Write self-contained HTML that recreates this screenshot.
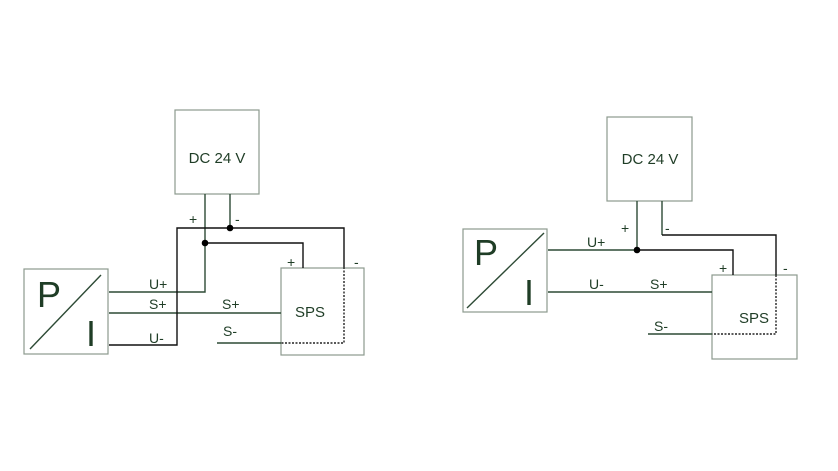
<!DOCTYPE html>
<html><head><style>html,body{margin:0;padding:0;background:#fff}svg{display:block}text{font-family:"Liberation Sans","DejaVu Sans",sans-serif;fill:#1f3d26}</style></head>
<body>
<svg width="838" height="471" viewBox="0 0 838 471" xmlns="http://www.w3.org/2000/svg">
<g fill="none" stroke="#8c9a8e" stroke-width="1.2">
<rect x="175" y="110" width="84" height="84"/>
<rect x="24" y="269" width="84" height="85"/>
<rect x="281" y="268" width="83" height="87"/>
<rect x="607" y="117" width="85" height="84"/>
<rect x="463" y="229" width="84" height="83"/>
<rect x="712" y="275" width="85" height="84"/>
</g>
<g fill="none" stroke="#2d4a35" stroke-width="1.4">
<line x1="30" y1="349" x2="101" y2="275"/>
<line x1="467" y1="308" x2="544" y2="233"/>
<polyline points="205,194 205,292 109,292"/>
<line x1="230" y1="194" x2="230" y2="228"/>
<line x1="109" y1="313" x2="281" y2="313"/>
<line x1="217" y1="343" x2="281" y2="343"/>
<line x1="637" y1="201" x2="637" y2="250"/>
<line x1="548" y1="250" x2="637" y2="250"/>
<line x1="548" y1="292" x2="712" y2="292"/>
<line x1="648" y1="334" x2="712" y2="334"/>
<line x1="662" y1="201" x2="662" y2="235"/>
</g>
<g fill="none" stroke="#111" stroke-width="1.4">
<polyline points="109,345 177,345 177,228 344,228 344,267"/>
<polyline points="205,243 303,243 303,268"/>
<polyline points="637,250 733,250 733,275"/>
<polyline points="662,235 776,235 776,275"/>
</g>
<g fill="none" stroke="#222" stroke-width="1.4" stroke-dasharray="2,1.5">
<polyline points="344,267 344,343 281,343"/>
<polyline points="776,275 776,334 712,334"/>
</g>
<g fill="#000"><circle cx="230" cy="228" r="3.3"/><circle cx="205" cy="243" r="3.3"/><circle cx="637" cy="250" r="3.3"/></g>
<g font-size="14">
<text x="217" y="163" text-anchor="middle" font-size="15">DC 24 V</text>
<text x="650" y="164" text-anchor="middle" font-size="15">DC 24 V</text>
<text x="189" y="224">+</text><text x="235" y="224">-</text>
<text x="287" y="267">+</text><text x="354" y="267">-</text>
<text x="149" y="289">U+</text><text x="149" y="309">S+</text><text x="222" y="309">S+</text>
<text x="149" y="343">U-</text><text x="223" y="336">S-</text>
<text x="310" y="317" text-anchor="middle" font-size="15">SPS</text>
<text x="621" y="233">+</text><text x="665" y="233">-</text>
<text x="587" y="247">U+</text><text x="589" y="289">U-</text><text x="650" y="289">S+</text>
<text x="654" y="331">S-</text>
<text x="719" y="273">+</text><text x="783" y="273">-</text>
<text x="754" y="323" text-anchor="middle" font-size="15">SPS</text>
</g>
<g font-size="36">
<text x="37" y="307">P</text><text x="86" y="346">I</text>
<text x="474" y="265">P</text><text x="524" y="305">I</text>
</g>
</svg>
</body></html>
